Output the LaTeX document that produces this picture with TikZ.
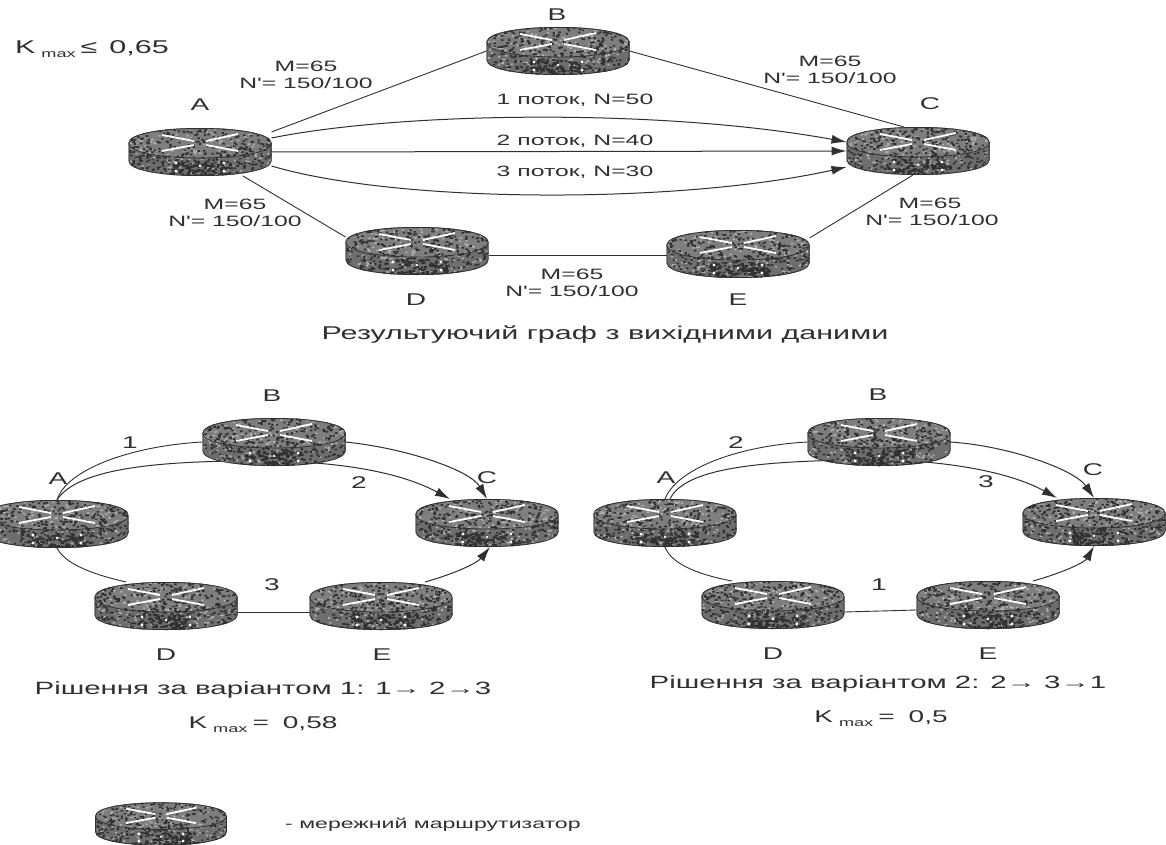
\documentclass[tikz,border=0pt]{standalone}
\usepackage{fontspec}
\usetikzlibrary{arrows.meta,calc}
\setmainfont{Liberation Sans}
\newfontfamily\widefont[FakeStretch=1.65]{Liberation Sans}
\definecolor{ink}{HTML}{303030}
\definecolor{rtop}{HTML}{7E7E7E}
\definecolor{rside}{HTML}{6E6E6E}
\definecolor{rdark}{HTML}{303030}
\definecolor{rlight}{HTML}{B0B0B0}
\newcommand{\kmax}[1]{K\hspace{6pt}{\fontsize{11}{11}\selectfont\raisebox{-4pt}{max}}\hspace{5pt}#1}
\tikzset{
  x=1pt,y=-1pt,
  rnode/.style={minimum width=143pt,minimum height=48pt,inner sep=0pt,outer sep=0pt},
  lab/.style={font=\widefont\fontsize{15}{15}\selectfont,text=ink,inner sep=0pt},
  captxt/.style={font=\widefont\fontsize{17}{17}\selectfont,text=ink,inner sep=0pt},
  capwide/.style={font=\widefont\fontsize{17.8}{18}\selectfont,text=ink,inner sep=0pt},
  keytxt/.style={font=\widefont\fontsize{14}{14}\selectfont,text=ink,inner sep=0pt},
  link/.style={draw=ink,line width=0.9pt},
  flow/.style={draw=ink,line width=1pt,-{Latex[length=15pt,width=9pt]}},
  router/.pic={
    \begin{scope}
      \clip (71.5,-9) .. controls (71.5,-29) and (-71.5,-29) .. (-71.5,-9)
            -- (-71.5,9) .. controls (-71.5,29) and (71.5,29) .. (71.5,9) -- cycle;
      \fill[rside] (-72,-25) rectangle (72,25);
      \fill[rtop] (71.5,-9) .. controls (71.5,-29) and (-71.5,-29) .. (-71.5,-9)
            .. controls (-71.5,11) and (71.5,11) .. (71.5,-9) -- cycle;
      \fill[rlight] \foreach \i in {1,...,200}{ (rand*71,rand*24) rectangle ++(2.2,1.6) };
      \fill[rdark] \foreach \i in {1,...,380}{ (rand*71,rand*24) rectangle ++(2.4,1.7) };
      \fill[rdark] \foreach \i in {1,...,70}{ (rand*32,16+rand*8) rectangle ++(3.2,2) };
      \draw[rdark,line width=0.8pt] (-71.5,-9) .. controls (-71.5,11) and (71.5,11) .. (71.5,-9);
      \draw[rdark,line width=1.6pt] (71.5,-9) .. controls (71.5,-29) and (-71.5,-29) .. (-71.5,-9)
            -- (-71.5,9) .. controls (-71.5,29) and (71.5,29) .. (71.5,9) -- cycle;
    \end{scope}
    \draw[white,line width=1.8pt] (-38,-17) -- (-6,-11) (6,-7) -- (38,-1)
       (38,-18) -- (6,-11) (-6,-7) -- (-38,-1);
    \fill[white] (-24,11) circle[radius=1.7] (24,11) circle[radius=1.7]
       (-24,19) circle[radius=1.7] (24,19) circle[radius=1.7] (0,14) circle[radius=1.3];
  }
}
\pgfmathsetseed{4242}
\begin{document}
\begin{tikzpicture}
\useasboundingbox (0,0) rectangle (1166,845);
\fill[white] (0,0) rectangle (1166,845);
% named router positions
\foreach \n/\px/\py in {A/200/152,B/558/51,C/918/151,D/417/251,E/738/254,
  La/57/524,Lb/274/442,Lc/487/523,Ld/166/606,Le/381/606,
  Ra/665/523,Rb/879/442,Rc/1094/522,Rd/773/605,Re/988/605,Key/161/824}
  {\node[rnode] (\n) at (\px,\py) {};}
% top graph
\draw[link] ([yshift=20pt]A.east) -- (B.west);
\draw[link] (B.east) -- ([xshift=-14pt]C.north);
\draw[link] ([xshift=43pt]A.south) -- ([yshift=14pt]D.west);
\draw[link] ([yshift=-4pt]D.east) -- ([yshift=-1pt]E.west);
\draw[link] ([xshift=-5pt]C.south) -- ([yshift=16pt]E.east);
\draw[flow] ([yshift=14pt]A.east) .. controls (400,112) and (660,108) .. ([yshift=9pt]C.west);
\draw[flow] (A.east) -- (C.west);
\draw[flow] ([yshift=-14pt]A.east) .. controls (400,204) and (680,204) .. ([yshift=-16pt]C.west);
% lower left
\draw[link] (La.north) .. controls (66,470) and (130,446) .. (Lb.west);
\draw[flow] (Lb.east) .. controls (405,448) and (470,470) .. (Lc.north);
\draw[flow] (La.north) .. controls (76,470) and (150,460) .. (270,461) .. controls (340,462) and (400,472) .. ([xshift=-37pt]Lc.north);
\draw[link] (La.south) .. controls (66,566) and (100,576) .. ([xshift=-40pt]Ld.north);
\draw[link] ([yshift=-6pt]Ld.east) -- ([yshift=-6pt]Le.west);
\draw[flow] ([xshift=44pt]Le.north) .. controls (460,572) and (478,562) .. ([xshift=3pt]Lc.south);
% lower right
\draw[link] (Ra.north) .. controls (676,470) and (735,446) .. (Rb.west);
\draw[flow] (Rb.east) .. controls (1010,446) and (1075,470) .. (Rc.north);
\draw[flow] ([xshift=5pt]Ra.north) .. controls (684,470) and (750,460) .. (875,460) .. controls (945,460) and (1010,472) .. ([xshift=-37pt]Rc.north);
\draw[link] (Ra.south) .. controls (672,566) and (705,576) .. ([xshift=-41pt]Rd.north);
\draw[link] ([yshift=-7pt]Rd.east) -- ([yshift=-5pt]Re.west);
\draw[flow] ([xshift=45pt]Re.north) .. controls (1065,572) and (1085,562) .. (Rc.south);
% router pictures over the lines
\foreach \n in {A,B,C,D,E,La,Lb,Lc,Ld,Le,Ra,Rb,Rc,Rd,Re}{\pic at (\n) {router};}
\pic[xscale=0.92,yscale=0.9] at (Key) {router};
% labels top
\node[captxt,font=\widefont\fontsize{18.5}{19}\selectfont] (kt) at (92,49) {\kmax{≤\hspace{12pt}0,65}};
\node[captxt] (lB) at (557,15) {B};
\node[captxt] (lA) at (200,105) {A};
\node[captxt] (lC) at (930,104) {C};
\node[captxt] (lD) at (416,300) {D};
\node[captxt] (lE) at (738,300) {E};
\node[lab] (m1) at (306,66) {M=65};
\node[lab] (n1) at (306,83) {N'= 150/100};
\node[lab] (m2) at (830,61) {M=65};
\node[lab] (n2) at (830,78) {N'= 150/100};
\node[lab] (m3) at (235,204) {M=65};
\node[lab] (n3) at (235,221) {N'= 150/100};
\node[lab] (m4) at (930,203) {M=65};
\node[lab] (n4) at (932,220) {N'= 150/100};
\node[lab] (m5) at (572,274) {M=65};
\node[lab] (n5) at (572,291) {N'= 150/100};
\node[lab] (f1) at (575,100) {1 поток, N=50};
\node[lab] (f2) at (575,141) {2 поток, N=40};
\node[lab] (f3) at (575,172) {3 поток, N=30};
\node[captxt,font=\widefont\fontsize{18.5}{19}\selectfont] (c0) at (605,335) {Результуючий граф з вихідними даними};
% labels left
\node[captxt] (a1) at (272,396) {B};
\node[captxt] (a2) at (58,479) {A};
\node[captxt] (a3) at (487,478) {C};
\node[captxt] (a4) at (166,655) {D};
\node[captxt] (a5) at (382,655) {E};
\node[captxt] (a6) at (130,443) {1};
\node[captxt] (a7) at (359,483) {2};
\node[captxt] (a8) at (272,585) {3};
\node[capwide] (a9) at (263,690) {Рішення за варіантом 1: 1→ 2→3};
\node[captxt] (a10) at (263,725) {\kmax{=\hspace{14pt}0,58}};
% labels right
\node[captxt] (b1) at (878,395) {B};
\node[captxt] (b2) at (666,478) {A};
\node[captxt] (b3) at (1093,470) {C};
\node[captxt] (b4) at (773,654) {D};
\node[captxt] (b5) at (988,654) {E};
\node[captxt] (b6) at (736,443) {2};
\node[captxt] (b7) at (986,482) {3};
\node[captxt] (b8) at (879,585) {1};
\node[capwide] (b9) at (878,684) {Рішення за варіантом 2: 2→ 3→1};
\node[captxt] (b10) at (881,719) {\kmax{=\hspace{14pt}0,5}};
% legend
\node[keytxt,anchor=west] (kl) at (285,825) {- мережний маршрутизатор};
\end{tikzpicture}
\end{document}
